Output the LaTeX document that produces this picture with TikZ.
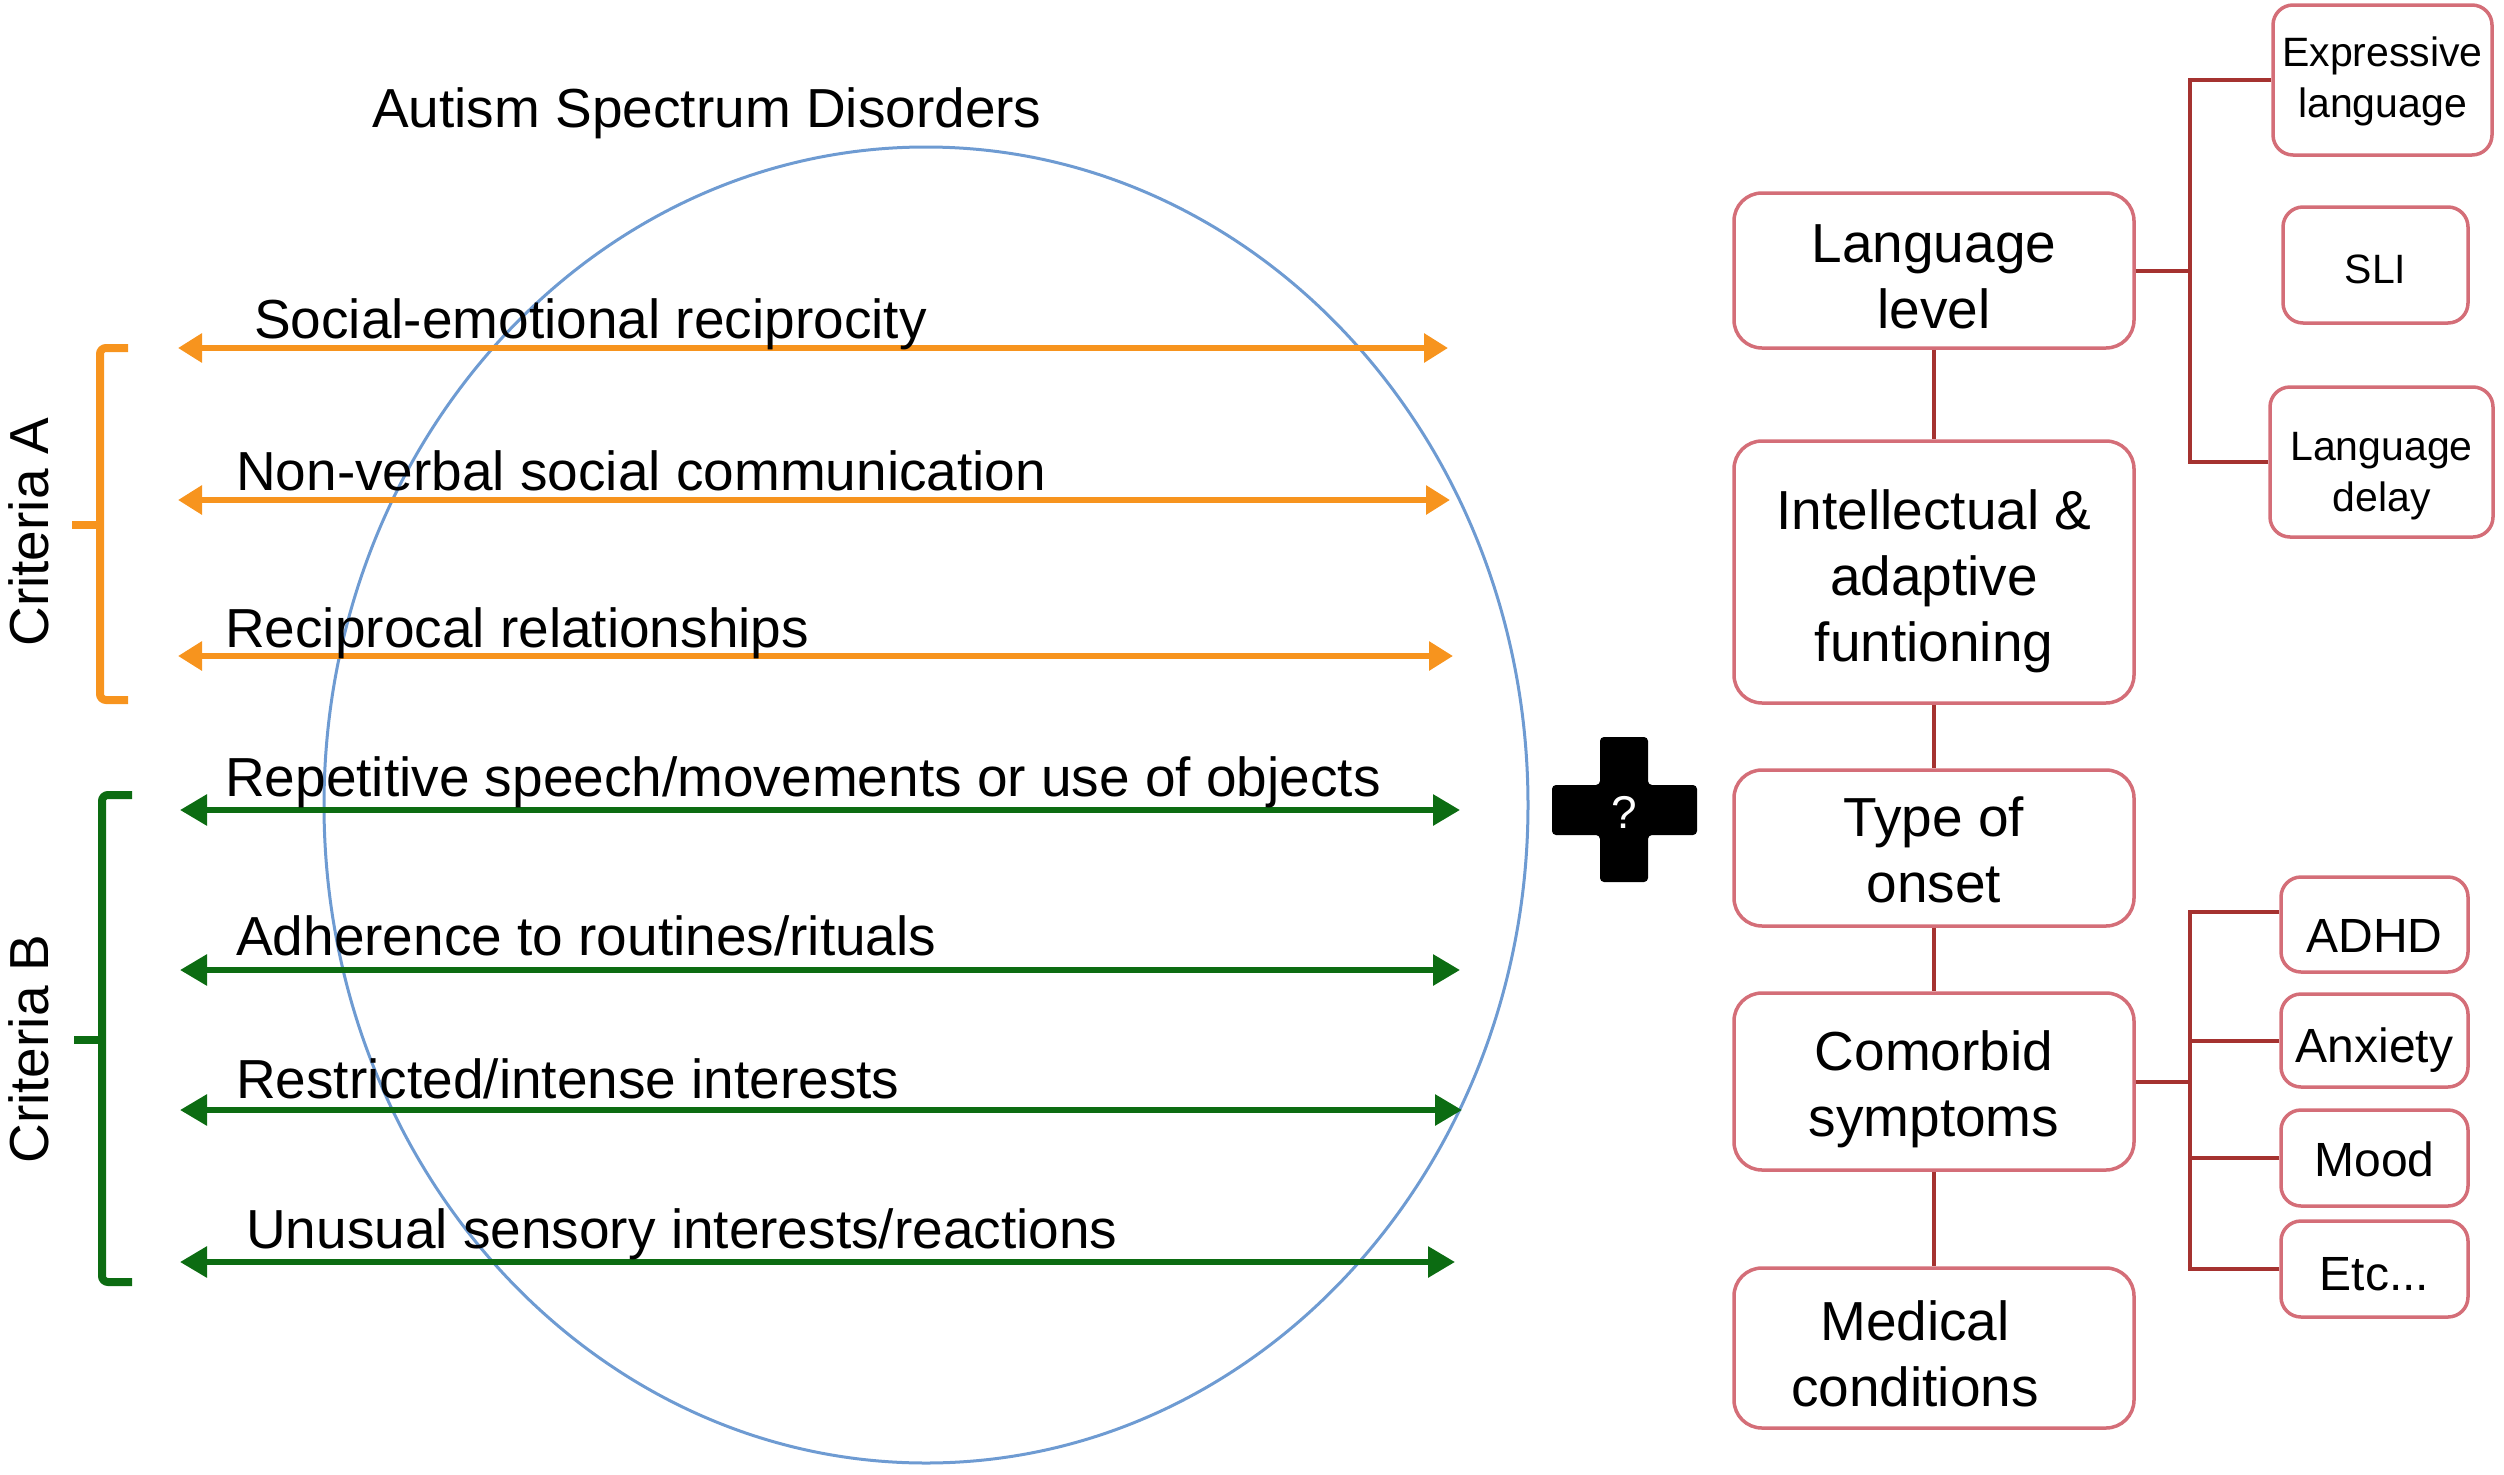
\documentclass[tikz,border=0pt]{standalone}
\usepackage{fontspec}
\setmainfont{Liberation Sans}
\usetikzlibrary{arrows.meta}
\definecolor{orng}{RGB}{247,148,30}
\definecolor{grn}{RGB}{12,108,18}
\definecolor{circ}{RGB}{110,155,210}
\definecolor{boxc}{RGB}{212,110,120}
\definecolor{conn}{RGB}{165,50,48}
\newcommand{\dnx}[1]{\rule{0pt}{\dimexpr0.75em+#1\relax}}
\begin{document}
\begin{tikzpicture}[x=1pt,y=-1pt,
  big/.style={font=\fontsize{55}{66}\selectfont},
  lbl/.style={big, anchor=base west, inner sep=0pt},
  oarrow/.style={orng, line width=6pt, {Triangle[length=24pt,width=28pt]}-{Triangle[length=24pt,width=28pt]}},
  garrow/.style={grn, line width=6pt, {Triangle[length=27pt,width=30pt]}-{Triangle[length=27pt,width=30pt]}},
  mainbox/.style={draw=boxc, line width=3.5pt, rounded corners=28pt, fill=white, minimum width=400pt, align=center, inner sep=0pt, big},
  smallbox/.style={draw=boxc, line width=3.5pt, rounded corners=20pt, fill=white, align=center, inner sep=0pt},
  sfont/.style={font=\fontsize{41}{51}\selectfont},
  mfont/.style={font=\fontsize{48}{56}\selectfont},
  conline/.style={conn, line width=4pt},
  brk/.style={line width=8pt, rounded corners=6pt}
]
\useasboundingbox (0,0) rectangle (2504,1475);

% ellipse
\draw[circ, line width=3pt] (926,805) ellipse [x radius=602, y radius=658];

% title
\node[lbl] (title) at (372,127) {Autism Spectrum Disorders};

% orange arrows
\coordinate (a1l) at (178,348); \coordinate (a1r) at (1448,348);
\coordinate (a2l) at (178,500); \coordinate (a2r) at (1450,500);
\coordinate (a3l) at (178,656); \coordinate (a3r) at (1453,656);
\draw[oarrow] (a1l) -- (a1r);
\draw[oarrow] (a2l) -- (a2r);
\draw[oarrow] (a3l) -- (a3r);
\node[lbl] (t1) at (254,338) {Social-emotional reciprocity};
\node[lbl] (t2) at (236,490) {Non-verbal social communication};
\node[lbl] (t3) at (225,647) {Reciprocal relationships};

% green arrows
\coordinate (b1l) at (180,810); \coordinate (b1r) at (1460,810);
\coordinate (b2l) at (180,970); \coordinate (b2r) at (1460,970);
\coordinate (b3l) at (180,1110); \coordinate (b3r) at (1462,1110);
\coordinate (b4l) at (180,1262); \coordinate (b4r) at (1455,1262);
\draw[garrow] (b1l) -- (b1r);
\draw[garrow] (b2l) -- (b2r);
\draw[garrow] (b3l) -- (b3r);
\draw[garrow] (b4l) -- (b4r);
\node[lbl] (t4) at (225,796) {Repetitive speech/movements or use of objects};
\node[lbl] (t5) at (236,955) {Adherence to routines/rituals};
\node[lbl] (t6) at (236,1098) {Restricted/intense interests};
\node[lbl] (t7) at (246,1248) {Unusual sensory interests/reactions};

% brackets
\draw[orng, brk] (128,348) -- (100,348) -- (100,700) -- (128,700);
\draw[orng, line width=8pt] (100,525) -- (72,525);
\draw[grn, brk] (132,795) -- (102,795) -- (102,1282) -- (132,1282);
\draw[grn, line width=8pt] (102,1040) -- (74,1040);
\node[big, rotate=90, inner sep=0pt] (ca) at (29,532) {Criteria A};
\node[big, rotate=90, inner sep=0pt] (cb) at (29,1049) {Criteria B};

% plus sign
\fill[black, rounded corners=4pt] (1600,737) -- (1648,737) -- (1648,785) -- (1697,785) -- (1697,835) -- (1648,835) -- (1648,882) -- (1600,882) -- (1600,835) -- (1552,835) -- (1552,785) -- (1600,785) -- cycle;
\node[text=white, font=\fontsize{46}{50}\selectfont, inner sep=0pt] (q) at (1624,812) {?};

% main column
\node[mainbox, minimum height=155pt] (lang) at (1934,270.5) {\dnx{10pt}Language\\level};
\node[mainbox, minimum height=262pt] (intel) at (1934,572) {\dnx{18pt}Intellectual \&\\adaptive\\funtioning};
\node[mainbox, minimum height=156pt] (onset) at (1934,848) {\dnx{2pt}Type of\\onset};
\node[mainbox, minimum height=177pt] (comorb) at (1934,1081.5) {\dnx{14pt}Comorbid\\symptoms};
\node[mainbox, minimum height=160pt] (med) at (1934,1348) {\dnx{10pt}\hspace*{-38pt}Medical\\\hspace*{-38pt}conditions};

\draw[conline] (lang.south) -- (intel.north);
\draw[conline] (intel.south) -- (onset.north);
\draw[conline] (onset.south) -- (comorb.north);
\draw[conline] (comorb.south) -- (med.north);

% language sub-boxes
\node[smallbox, sfont, minimum width=219pt, minimum height=150pt] (expr) at (2382.5,80) {\dnx{2pt}Expressive\\language};
\node[smallbox, sfont, minimum width=185pt, minimum height=116pt] (sli) at (2375.5,265) {\dnx{6pt}SLI};
\node[smallbox, sfont, minimum width=223pt, minimum height=150pt] (delay) at (2381.5,462) {\dnx{26pt}Language\\delay};
\coordinate (lj) at (2190,270.5);
\draw[conline] (lang.east) -- (lj);
\draw[conline] (expr.west) -| (lj);
\draw[conline] (delay.west) -| (lj);

% comorbid sub-boxes
\node[smallbox, mfont, minimum width=187pt, minimum height=95pt] (adhd) at (2374.5,924.5) {\dnx{20pt}ADHD};
\node[smallbox, mfont, minimum width=187pt, minimum height=93pt] (anx) at (2374.5,1040.5) {\dnx{18pt}Anxiety};
\node[smallbox, mfont, minimum width=187pt, minimum height=96pt] (mood) at (2374.5,1158) {\dnx{2pt}Mood};
\node[smallbox, mfont, minimum width=187pt, minimum height=96pt] (etc) at (2374.5,1269) {\dnx{8pt}Etc...};
\coordinate (cj) at (2190,1081.5);
\draw[conline] (comorb.east) -- (cj);
\draw[conline] ([yshift=13pt]adhd.west) -| (cj);
\draw[conline] (anx.west) -| (cj);
\draw[conline] (mood.west) -| (cj);
\draw[conline] (etc.west) -| (cj);
\end{tikzpicture}
\end{document}
